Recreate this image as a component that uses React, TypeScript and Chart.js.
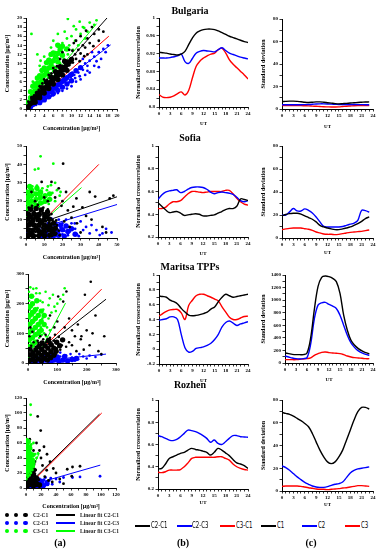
import React, { useEffect, useRef } from "react";
import { Chart, registerables } from "chart.js";

Chart.register(...registerables);

const C_BLACK = "#000000";
const C_BLUE = "#0000ff";
const C_RED = "#ff0000";
const C_GREEN = "#00ff00";
const SERIF = "'Liberation Serif','Times New Roman',serif";

// ---------------- (a) scatter data, flattened [x, y, x, y, ...]
// Bulgaria
const bgC2C1 = [0.3,0.4, 0.6,0.9, 0.9,0.7, 1,1.4, 1.3,1.8, 1.5,1.2, 1.7,2.3, 2,2, 2.1,2.8, 2.4,2.4, 2.6,3.3, 2.9,2.8, 3,3.8, 3.3,3.3, 3.5,4.3, 3.8,3.7, 4,4.9, 4.2,4.2, 4.5,5.4, 4.7,4.6, 5,6, 5.2,5.1, 5.5,6.5, 5.7,5.6, 6,7, 6.2,6.2, 6.5,7.6, 6.7,6.7, 7,8.2, 7.2,7.2, 7.5,8.8, 7.8,7.8, 8,9.4, 8.3,8.3, 8.6,10, 8.9,9, 9.2,10.6, 9.5,9.6, 10,11.2, 10.3,10.2, 10.8,12, 11,11, 11.5,13, 12,12.2, 12.5,14, 13,13.5, 13.5,15.5, 14,14.5, 15,16.5, 16,17.5, 11,15, 12,16, 9.5,13, 13.5,12, 16,15, 14.5,18, 10.5,14.5, 7.5,11, 6,9, 8,12.5, 5,7.5, 4,6.5, 3,5, 17,17, 1.8,3, 2.8,4.2, 3.6,5.6, 4.6,6.4, 5.6,7.8, 6.8,9.4, 0.5,1.6, 1.2,2.6, 11.8,10.5, 12.8,11.6, 14.8,13.8, 10.2,12.8, 13.2,17.2];
const bgC2C3 = [0.5,0.3, 1,0.6, 1.4,0.9, 1.8,1.1, 2,1.6, 2.3,1.3, 2.6,2, 2.9,1.8, 3.2,2.5, 3.5,2.2, 3.8,3, 4,2.6, 4.3,3.4, 4.6,3.1, 4.9,3.9, 5.2,3.5, 5.5,4.4, 5.8,4, 6.1,4.9, 6.4,4.5, 6.7,5.4, 7,5, 7.3,5.9, 7.6,5.4, 8,6.4, 8.3,5.9, 8.6,7, 9,6.5, 9.4,7.5, 9.8,7, 10.2,8, 10.6,7.5, 11,8.6, 11.5,8, 12,9.2, 12.5,8.6, 13,10, 13.5,9.5, 14,10.6, 15,11.5, 16,12.5, 17,13.2, 18,14, 10,5, 11,6, 12,6.5, 13,7.5, 14,8, 9,4.5, 7,3.5, 8,4, 15,9.5, 12.5,11, 16.5,11, 5,2.5, 6,3, 14.5,12.5, 17.5,12.5, 2.2,0.9, 3.4,1.6, 4.4,2.2, 5.6,2.9, 6.8,4, 8,5, 9.4,5.8, 10.8,6.8, 15.5,10.5, 16,9.2, 13.5,8.4, 11.8,7.2];
const bgC3C1 = [0.3,0.8, 0.6,1.5, 0.8,2.5, 1,1.8, 1.2,3.2, 1.5,2.4, 1.6,4, 1.9,3.1, 2,5, 2.2,4.2, 2.4,6, 2.6,3.5, 2.8,5.3, 3,7, 3.1,4.6, 3.3,6.2, 3.5,8, 3.6,5.4, 3.9,7, 4,9, 4.2,6, 4.4,7.8, 4.6,10, 4.8,6.8, 5,8.8, 5.2,11, 5.4,7.5, 5.6,9.6, 5.8,12, 6,8.3, 6.2,10.4, 6.5,12.5, 6.7,9, 7,11.2, 7.2,13.5, 7.5,10, 7.8,12, 8,14.5, 8.3,11, 8.6,13, 9,15.5, 9.2,12, 9.5,14, 10,16, 10.3,13, 10.8,15, 11,17.5, 11.5,14, 12,16.5, 12.5,18, 13,15.5, 13.5,17, 14,19, 15,18.5, 9.2,19.8, 1.2,16.5, 2.5,12, 6,15, 7,16.5, 4,11.5, 3,9.5, 1.5,6, 5.5,13.5, 8.5,17, 15.5,19.5, 11.8,19.2, 10.5,18.2, 12.8,17.8, 6.8,14.2, 3.2,10.6];
const bgC2C1Core = [0.5,0.5, 1,1.2, 1.5,1.5, 2,2.2, 2.5,2.6, 3,3.2, 3.5,3.7, 4,4.3, 4.5,4.8, 5,5.4, 5.5,5.9, 6,6.5, 6.5,7, 7,7.6, 7.5,8.1, 8,8.7, 8.5,9.2, 9,9.8, 9.5,10.3, 10,10.9, 1.5,2.3, 2.5,3.5, 3.5,4.7, 4.5,5.9, 5.5,7, 6.5,8.2, 7.5,9.3, 8.5,10.5, 2,1.5, 3,2.5, 4,3.5, 5,4.5, 6,5.5, 7,6.5, 8,7.5, 9,8.5];
const bgC2C3Core = [1,0.5, 1.5,1, 2,1.3, 2.5,1.7, 3,2.1, 3.5,2.5, 4,2.9, 4.5,3.3, 5,3.7, 5.5,4.1, 6,4.5, 6.5,4.9, 7,5.3, 7.5,5.7, 8,6.1, 8.5,6.5, 9,6.9, 10,7.6, 11,8.4, 12,9.1, 3,1.4, 4,2, 5,2.7, 6,3.4, 7,4.1, 8,4.8, 9,5.5, 10,6.2];
const bgC3C1Core = [0.5,1.5, 1,2.5, 1.5,3.3, 2,4, 2.5,5, 3,5.8, 3.5,6.5, 4,7.4, 4.5,8.2, 5,9, 5.5,9.8, 6,10.6, 6.5,11.4, 7,12.2, 7.5,13, 8,13.8, 1,3.8, 2,5.5, 3,7.3, 4,9, 5,10.7, 6,12.3, 7,14, 1.5,5, 2.5,6.8, 3.5,8.5, 4.5,10.2, 5.5,12, 3,4.5, 4,6, 5,7.6, 6,9, 7,10.4, 8,11.8, 9,13.2];
const bgFitC2C1 = [0, 0, 17.8, 20];
const bgFitC2C3 = [0.5, 0.3, 18.6, 14.1];
const bgFitC3C1 = [0, 0, 15.5, 18.75];
const bgRefLine = [0, 0, 18.2, 16];

// Sofia
const sfC2C1 = [0.5,0.5, 1,2, 1.5,4, 0.8,6, 1.2,8, 0.6,10, 1,12, 0.8,14, 2,1, 2.5,3, 2.2,5, 2.8,7, 2.4,9, 2.9,11, 2.3,13, 2.6,15, 3.5,0.8, 4,2.5, 3.6,4.5, 4.2,6.5, 3.8,8.5, 4.3,10.5, 3.9,12.5, 4.4,14.5, 5.5,1.2, 5.2,3.3, 5.8,5.2, 5.4,7.3, 6,9.2, 5.5,11.2, 6.1,13.2, 5.6,16, 7,0.6, 7.4,2.6, 7,4.4, 7.6,6.3, 7.2,8.3, 7.8,10.3, 7.3,12.3, 7.9,14.5, 9,1.5, 9.3,3.6, 8.9,5.6, 9.5,7.5, 9,9.5, 9.6,11.5, 9.2,13.6, 10.8,0.9, 11,3, 10.6,5, 11.3,7, 10.9,9, 11.5,11, 11,13, 12.7,2, 12.5,4.2, 13,6.2, 12.6,8.3, 13.2,10.2, 12.8,12.5, 14.5,1.2, 14.8,3.5, 14.3,5.6, 15,7.8, 14.6,9.8, 16.5,2.5, 16.2,5, 17,7, 16.6,9.5, 18,4, 18.5,1.5, 1.5,16.5, 3.3,17.5, 6.5,18, 9.5,16.5, 12,15.5, 14,13, 20.4,40.4, 14,30.5, 8.6,30.5, 27.7,21.5, 31,16.6, 46,21.5, 20,20, 23,15, 25,11, 28,8, 33,12, 36,10, 38,22.5, 42,6, 44,3, 30,3, 22,25, 18,27, 16,22, 19.5,17.5, 26,17, 35,25, 48,23, 24,6, 21,9, 12,20, 10,22, 3,25, 5,20];
const sfC2C3 = [8,1, 10,2.5, 12,1.5, 13,4, 15,2, 16,4.5, 17,1, 18,3, 19,5.5, 20,2, 21,4, 22,6.5, 23,1.5, 24,3.5, 25,8, 26.8,7.9, 23,6, 28,2, 31.4,4.3, 35,2.5, 38.7,4.3, 40.5,1.6, 44,5, 47,3, 33,6, 30,9, 20,8, 18,10, 15,8, 14,10.5, 12,8, 17,6.5, 27,5, 29,1, 36,7, 42,2.5, 22,10, 11,5.5, 9,4, 14,6];
const sfC3C1 = [8,44.4, 15,40.4, 4.9,37.2, 6.8,37.7, 13.7,28.7, 4,25, 2.2,27, 1,20, 2,18, 3,22, 4.5,19, 5.5,23, 6.5,26, 7.5,21, 8.5,24, 9.5,19, 10.5,22, 11.5,26, 12.5,18.5, 13.5,21, 14.5,24.5, 16,20, 17,26, 18.5,23, 1.2,24, 0.6,17, 2.8,15.5, 5,16.5, 7,17, 3.5,28, 6,28.5, 9,27, 12,28, 16,30, 19,25, 0.5,12, 3.5,19.5, 1.5,22.5, 7,23.5];
const sfC2C1Core = [1.2,1.3, 1,4.2, 1.4,7.1, 0.9,10.2, 1.3,13, 4.1,1.1, 3.8,4.3, 4.2,7.2, 3.9,9.8, 4.3,13.2, 7.1,1.4, 6.8,4.1, 7.2,7, 6.9,10.1, 7.3,12.8, 10.2,1.2, 9.8,4.2, 10.1,6.9, 9.9,9.9, 10.3,12.6, 13.1,1.5, 12.8,4.4, 13.2,7.1, 12.9,10.2, 15.8,2.4, 16.1,5.3, 2.6,15.6, 5.6,16.1, 8.4,15.2, 11.8,14.1, 15.2,8.1, 2.5,2.6, 5.6,5.4, 8.6,8.5, 11.4,11.6, 2.7,8.6, 8.4,2.8, 5.4,11.4, 11.6,5.6, 2.4,11.5, 14.4,3.6];
const sfC2C3Core = [9,1, 12,1.5, 15,1, 18,1.5, 21,1, 11,4, 14,4.5, 17,4, 20,4.5, 23,3.5, 13,7, 16,7.5, 19,7, 22,6.5, 25,5, 27,2];
const sfC3C1Core = [1,16, 1,19, 1,22, 1,25, 3,17, 3,20, 3,23, 3,26, 5.5,18, 5.5,21, 5.5,24, 8,19, 8,22, 8,25, 10.5,20, 10.5,23, 13,21, 13,24, 2,28, 6,27];
const sfFitC2C1 = [0, 5.6, 50, 22.4];
const sfFitC2C3 = [0, 3, 50, 18.2];
const sfFitC3C1 = [0, 1, 30.5, 27.4];
const sfRefLine = [0, 0, 40, 40];

// Maritsa TPPs
const mtC2C1 = [2,5, 5,15, 8,30, 4,45, 10,8, 12,22, 15,40, 11,58, 18,12, 20,28, 23,48, 19,70, 26,5, 28,20, 30,38, 27,55, 33,75, 34,12, 37,30, 40,50, 36,68, 42,90, 44,8, 46,25, 48,42, 45,60, 52,80, 54,18, 56,35, 58,55, 62,70, 60,95, 65,10, 68,28, 70,48, 72,65, 75,85, 80,20, 82,40, 85,58, 88,75, 92,95, 95,30, 98,50, 100,70, 105,88, 110,45, 115,60, 120,80, 130,55, 140,70, 150,60, 160,90, 180,80, 182,90, 200,110, 210,60, 220,100, 240,40, 250,30, 214,274, 194,230, 131,241, 103,224, 120,207, 140,150, 170,130, 230,160, 260,90, 150,110, 125,120, 100,140, 90,120, 75,160, 190,45, 165,40, 5,90, 15,105, 8,120];
const mtC2C3 = [3,2, 8,5, 12,10, 16,3, 20,8, 24,14, 28,4, 32,11, 36,18, 40,6, 44,13, 48,20, 52,3, 56,10, 60,16, 64,24, 68,6, 72,12, 76,19, 80,28, 84,4, 88,10, 92,17, 96,24, 100,8, 105,15, 110,22, 115,5, 120,12, 125,17, 130,25, 140,10, 150,18, 160,8, 171,13, 188,22, 200,15, 210,25, 230,20, 250,28, 145,30, 135,3, 175,30, 60,32, 90,35, 20,25, 40,30, 110,35];
const mtC3C1 = [3,20, 5,45, 8,70, 4,95, 7,120, 5,150, 6,180, 4,210, 3,240, 12,30, 14,55, 11,80, 15,105, 12,130, 16,160, 13,190, 17,225, 20,40, 22,65, 19,90, 23,115, 21,140, 24,170, 20,200, 28,50, 30,75, 27,100, 31,125, 29,150, 33,185, 28,235, 36,60, 38,85, 35,110, 40,135, 37,165, 42,210, 45,70, 47,95, 44,120, 49,150, 52,180, 55,100, 57,130, 60,160, 65,120, 70,150, 74,218, 80,170, 90,190, 100,200, 110,215, 120,230, 125,252, 28.5,252, 40,235, 60,240, 18,250, 8,255, 50,205, 85,230, 95,175, 70,195, 62,90, 75,110, 10,10, 25,20];
const mtC2C1Core = [5,8, 6,28, 7,46, 16,12, 17,32, 24,6, 26,24, 27,44, 35,14, 36,34, 37,56, 46,8, 46,26, 47,46, 48,68, 56,16, 57,36, 58,58, 66,10, 67,28, 68,50, 70,76, 77,18, 78,38, 79,62, 88,26, 88,50, 96,40, 98,70, 108,58, 118,78];
const mtC2C3Core = [15,5, 30,8, 45,5, 60,10, 75,5, 90,10, 105,6, 120,10, 135,7, 150,12, 25,18, 50,20, 75,22, 100,20, 125,22, 165,15];
const mtC3C1Core = [5,55, 5,80, 5,105, 5,130, 5,160, 5,190, 15,60, 15,85, 15,110, 15,140, 15,170, 15,200, 25,70, 25,95, 25,120, 25,150, 25,180, 35,100, 35,130, 35,160, 45,110, 45,140, 45,175, 55,130, 55,160, 12,225, 30,210];
const mtFitC2C1 = [0, 10, 266, 215];
const mtFitC2C3 = [0, 2.6, 266, 30];
const mtFitC3C1 = [20, 0, 128, 202];
const mtRefLine = [0, 0, 251, 249];

// Rozhen
const rzC2C1 = [0.5,2, 1,6, 2,10, 1.5,14, 2.5,18, 1,22, 2,26, 1.5,30, 3,34, 2,38, 3.5,3, 4,8, 4.5,12, 3.8,16, 5,20, 4.2,24, 5.5,28, 4.5,32, 6,36, 5,42, 6.5,4, 7,9, 7.5,14, 6.8,18, 8,22, 7.2,27, 8.5,31, 9,2, 9.5,7, 10,11, 9.2,16, 10.5,20, 9.8,25, 11.5,5, 12,10, 12.5,15, 11.8,19, 14,3, 14.5,8, 15,13, 16,6, 17,11, 18,2, 13,24, 15.6,95.4, 19.6,76.6, 27.6,23.7, 32,35, 36.4,26, 62,28, 72,29, 61,15.7, 50,5.8, 22,30, 25,15, 30,10, 20,40, 18,50, 14,60, 10,50, 8,45, 5,65, 3,55, 40,20, 45,12, 55,25, 35,8, 28,45, 24,55, 12,35];
const rzC2C3 = [1,0.5, 3,1.5, 5,0.8, 7,2.5, 9,1.2, 11,3.5, 13,1, 15,4, 17,2, 19,5.5, 21,1.5, 23,6, 25,3, 27,8, 29,4.5, 31,10, 8,4.5, 12,6, 16,7.5, 20,9, 24,11, 14,10, 10,8, 6,5, 35,5, 40,12, 45,8, 50,14, 62,14, 72,14.8, 98.7,15.7, 26,14, 33,13, 2,3, 4,5.5, 18,12, 22,3.5];
const rzC3C1 = [0.5,12, 1,17, 0.8,22, 1.5,27, 0.6,32, 1.2,37, 0.8,42, 1.5,47, 0.7,52, 1.2,57, 2.5,15, 3,20, 2.2,25, 3.3,30, 2.5,35, 3.2,40, 2.4,45, 3.4,50, 2.7,55, 4.5,17, 5,23, 4.3,28, 5.2,33, 4.6,38, 5.5,44, 4.8,50, 5.8,56, 6.5,20, 7,26, 6.8,32, 7.5,38, 7.2,44, 8.5,24, 9,30, 8.8,36, 10,28, 11,34, 6.2,111, 6.2,97.6, 10,60, 12,45, 14,40, 3,62, 1,65, 7,58, 16,46];
const rzC2C1Core = [2,3, 2,10, 2,17, 2,24, 2,31, 6,5, 6,12, 6,19, 6,26, 10,3, 10,10, 10,17, 10,24, 14,6, 14,13, 18,4, 4,36, 9,32];
const rzC2C3Core = [3,2, 8,3, 13,2, 18,4, 23,3, 28,6, 12,7, 20,9];
const rzC3C1Core = [1.5,22, 1.5,29, 1.5,36, 1.5,43, 1.5,50, 1.5,57, 5,25, 5,32, 5,39, 5,46, 5,53, 8.5,30, 8.5,37, 8.5,44, 3,62];
const rzFitC2C1 = [0, 2, 98, 98.5];
const rzFitC2C3 = [0, 2.1, 99, 30.5];
const rzFitC3C1 = [0, 8, 17.5, 46];
const rzRefLine = [0, 0, 101, 100];

// ---------------- (b) normalized crosscorrelation, UT hours 0..24
const HOURS_B = [0,1,2,3,4,5,6,7,8,9,10,11,12,13,14,15,16,17,18,19,20,21,22,23,24];
const bgCorrC2C1 = [0.923,0.922,0.921,0.919,0.918,0.917,0.919,0.925,0.94,0.955,0.966,0.971,0.974,0.975,0.975,0.974,0.971,0.967,0.963,0.959,0.956,0.953,0.95,0.947,0.945];
const bgCorrC2C3 = [0.910,0.910,0.910,0.911,0.913,0.915,0.919,0.902,0.898,0.909,0.921,0.925,0.927,0.926,0.925,0.924,0.929,0.933,0.927,0.921,0.918,0.915,0.912,0.910,0.908];
const bgCorrC3C1 = [0.828,0.822,0.821,0.822,0.825,0.830,0.834,0.827,0.837,0.865,0.891,0.903,0.910,0.915,0.919,0.921,0.929,0.932,0.921,0.906,0.896,0.888,0.880,0.872,0.863];
const sfCorrC2C1 = [0.50,0.47,0.44,0.415,0.42,0.424,0.41,0.39,0.395,0.40,0.404,0.40,0.386,0.385,0.39,0.395,0.41,0.424,0.44,0.45,0.45,0.47,0.535,0.53,0.52];
const sfCorrC2C3 = [0.53,0.57,0.595,0.605,0.61,0.615,0.59,0.60,0.62,0.635,0.64,0.64,0.635,0.62,0.595,0.58,0.59,0.595,0.59,0.585,0.575,0.55,0.52,0.51,0.52];
const sfCorrC3C1 = [0.45,0.45,0.46,0.49,0.51,0.51,0.52,0.55,0.58,0.60,0.60,0.595,0.59,0.595,0.60,0.60,0.60,0.60,0.61,0.61,0.58,0.54,0.51,0.49,0.48];
const mtCorrC2C1 = [0.716,0.71,0.70,0.66,0.64,0.61,0.55,0.50,0.46,0.45,0.455,0.465,0.48,0.50,0.54,0.57,0.64,0.70,0.74,0.72,0.70,0.71,0.72,0.73,0.74];
const mtCorrC2C3 = [0.39,0.40,0.41,0.435,0.435,0.40,0.20,0.02,-0.04,-0.03,0.01,0.02,0.03,0.05,0.08,0.13,0.20,0.30,0.36,0.38,0.35,0.32,0.34,0.355,0.37];
const mtCorrC3C1 = [0.445,0.48,0.51,0.53,0.535,0.535,0.49,0.40,0.59,0.66,0.72,0.74,0.74,0.72,0.70,0.675,0.65,0.57,0.50,0.43,0.40,0.40,0.42,0.44,0.445];
const rzCorrC2C1 = [0.38,0.385,0.425,0.475,0.49,0.505,0.52,0.53,0.55,0.565,0.555,0.55,0.54,0.53,0.505,0.53,0.565,0.55,0.525,0.50,0.465,0.435,0.425,0.41,0.385];
const rzCorrC2C3 = [0.68,0.67,0.655,0.64,0.635,0.645,0.67,0.70,0.73,0.725,0.715,0.70,0.68,0.655,0.62,0.64,0.61,0.60,0.625,0.655,0.68,0.68,0.67,0.668,0.665];
const rzCorrC3C1 = [0.35,0.347,0.355,0.37,0.37,0.37,0.375,0.40,0.435,0.475,0.485,0.485,0.485,0.485,0.485,0.485,0.49,0.49,0.475,0.46,0.425,0.40,0.385,0.375,0.37];

// ---------------- (c) standard deviation, UT hours 0..23
const HOURS_C = [0,1,2,3,4,5,6,7,8,9,10,11,12,13,14,15,16,17,18,19,20,21,22,23];
const bgStdC1 = [6.5,6.8,7,7,6.8,6.5,6,5.8,6,6.3,6.3,6,5.6,5.2,4.8,4.6,4.8,5,5.3,5.5,5.8,6,6.2,6.3];
const bgStdC2 = [3.8,3.8,3.8,3.8,3.8,3.8,3.9,4,4.2,4.5,4.6,4.6,4.5,4.3,4.2,4,4,4,4,4,3.9,3.9,3.8,3.8];
const bgStdC3 = [3,3,3,3,3,3,2.9,2.8,2.6,2.4,2.2,2,1.9,1.8,1.8,1.9,2.2,2.5,2.7,2.9,3,3,3,3];
const sfStdC1 = [19.2,20.4,21.2,21.5,21.5,20.7,19.3,17.8,16.3,14,11,9.6,8.7,7.9,7.3,7.3,7.9,8.7,9.6,11,12.5,14.5,16.9,18.3];
const sfStdC2 = [19.8,20,22.7,25.6,23.6,23.5,25.3,24,21.8,18.3,14,10.2,9.6,9.6,9.6,9.6,10,11,12,13,15.4,24,23.8,22.4];
const sfStdC3 = [7.3,7.9,8.4,8.7,8.7,8.7,8.1,7.6,6.7,5.2,4.4,3.5,3.2,3.2,2.9,3.2,3.8,4.4,4.9,5.2,5.5,5.8,6.4,7];
const mtStdC1 = [160,149,138,133,133,133,160,400,850,1214,1363,1384,1373,1347,1294,1107,761,522,362,282,229,192,165,149];
const mtStdC2 = [112,96,80,69,64,69,85,300,700,921,958,964,932,905,868,761,602,442,319,245,192,160,138,122];
const mtStdC3 = [53,53,53,53,59,64,69,80,122,149,170,176,165,160,154,149,133,112,96,85,80,75,69,69];
const rzStdC1 = [69.1,68.2,67.4,65.9,63.8,61.8,59.4,56.5,50.6,43.2,35.9,30,25.6,24.1,25.6,30,35.9,44.7,53.5,62.4,69.7,73.5,73.5,72];
const rzStdC2 = [22,20.6,18.2,15.3,12.4,10,7.6,5.9,4.4,3.5,3.2,3.2,3.8,5,5.9,6.5,7.9,11.8,15.9,18.2,19.4,20,20.6,21.2];
const rzStdC3 = [4.1,4.4,4.4,4.4,4.4,4.1,3.5,2.9,2.4,1.8,1.5,1.5,1.2,1.5,1.8,2.1,2.6,2.9,3.5,4.1,4.7,4.7,4.4,4.1];

// ---------------- text
const STATIONS = ["Bulgaria", "Sofia", "Maritsa TPPs", "Rozhen"];
const CONC_TITLE = "Concentration [μg/m³]";
const CORR_TITLE = "Normalized crosscorrelation";
const STD_TITLE = "Standard deviation";
const UT_TITLE = "UT";
const PAIR_LABELS = ["C2-C1", "C2-C3", "C3-C1"];
const FIT_LABELS = ["Linear fit C2-C1", "Linear fit C2-C3", "Linear fit C3-C1"];
const STD_LABELS = ["C1", "C2", "C3"];

// ---------------- helpers
type Geo = { L: number; T: number; W: number; H: number; x0: number; y0: number; x1: number; y1: number };
type AxisSpec = { min: number; max: number; step: number; every: number; title: string; tsize?: number };

const pts = (a: number[]) => {
  const r: { x: number; y: number }[] = [];
  for (let i = 0; i < a.length; i += 2) r.push({ x: a[i], y: a[i + 1] });
  return r;
};
const seg = (a: number[]) => [{ x: a[0], y: a[1] }, { x: a[2], y: a[3] }];

function makeScale(spec: AxisSpec, horizontal: boolean, size: number, titlePad: any) {
  const isLab = (v: number) => Math.abs(v / spec.every - Math.round(v / spec.every)) < 1e-6;
  return {
    type: "linear",
    min: spec.min,
    max: spec.max,
    afterFit: (s: any) => {
      if (horizontal) s.height = size;
      else s.width = size;
    },
    ticks: {
      stepSize: spec.step,
      autoSkip: false,
      maxRotation: 0,
      minRotation: 0,
      padding: 1.5,
      color: "#000",
      font: { family: SERIF, size: 5, weight: "bold" },
      callback: (v: number) => (isLab(v) ? String(parseFloat(Number(v).toFixed(4))) : ""),
    },
    grid: { display: true, drawOnChartArea: false, drawTicks: true, tickLength: 2.5, color: "#000", lineWidth: 0.8 },
    border: { display: true, color: "#000", width: 1 },
    title: {
      display: true,
      text: spec.title,
      color: "#000",
      font: { family: SERIF, size: spec.tsize || 6, weight: "bold" },
      padding: titlePad,
    },
  };
}

function makeOptions(g: Geo, xs: AxisSpec, ys: AxisSpec, yTitleOffset: number) {
  return {
    responsive: false,
    animation: false,
    devicePixelRatio: 1,
    events: [],
    layout: { padding: { left: 0, top: g.y0 - g.T, right: g.L + g.W - g.x1, bottom: 0 } },
    plugins: { legend: { display: false }, tooltip: { enabled: false }, title: { display: false } },
    scales: {
      x: makeScale(xs, true, g.T + g.H - g.y1, { top: 0, bottom: 0 }),
      y: makeScale(ys, false, g.x0 - g.L, { top: yTitleOffset, bottom: 0 }),
    },
  };
}

// s = [C2-C1, C2-C3, C3-C1] sparse points, k = same series dense cores, lines = [fitC2C1, fitC2C3, fitC3C1, ref]
function scatterConfig(g: Geo, xs: AxisSpec, ys: AxisSpec, r: number, s: number[][], k: number[][], lines: number[][], greenOnTop: boolean) {
  const dot = (d: number[], c: string, rad: number) => ({ data: pts(d), pointRadius: rad, pointBorderWidth: 0, backgroundColor: c, borderColor: c, showLine: false });
  const ln = (d: number[], c: string) => ({ data: seg(d), showLine: true, pointRadius: 0, borderColor: c, backgroundColor: c, borderWidth: 1 });
  const rc = 2.7;
  const black = [dot(s[0], C_BLACK, r), dot(k[0], C_BLACK, rc)];
  const blue = [dot(s[1], C_BLUE, r), dot(k[1], C_BLUE, rc)];
  const green = [dot(s[2], C_GREEN, r), dot(k[2], C_GREEN, rc)];
  const dots = greenOnTop ? [...green, ...black, ...blue] : [...black, ...blue, ...green];
  return {
    type: "scatter",
    data: {
      datasets: [
        ...dots,
        ln(lines[3], C_RED),
        ln(lines[0], C_BLACK),
        ln(lines[1], C_BLUE),
        ln(lines[2], C_GREEN),
      ],
    },
    options: makeOptions(g, xs, ys, 3.4),
  };
}

function lineConfig(g: Geo, xs: AxisSpec, ys: AxisSpec, hours: number[], series: number[][], yOff: number) {
  const cols = [C_BLACK, C_BLUE, C_RED];
  return {
    type: "scatter",
    data: {
      datasets: series.map((v, k) => ({
        data: hours.map((h, i) => ({ x: h, y: v[i] })),
        showLine: true,
        pointRadius: 0,
        borderColor: cols[k],
        backgroundColor: cols[k],
        borderWidth: 1.4,
        tension: 0.35,
      })),
    },
    options: makeOptions(g, xs, ys, yOff),
  };
}

function Panel({ g, config }: { g: Geo; config: any }) {
  const ref = useRef<HTMLCanvasElement>(null);
  useEffect(() => {
    const chart = new Chart(ref.current as HTMLCanvasElement, config);
    return () => chart.destroy();
  }, []);
  return (
    <canvas
      ref={ref}
      width={g.W}
      height={g.H}
      style={{ position: "absolute", left: g.L, top: g.T, width: g.W, height: g.H }}
    />
  );
}

// ---------------- geometry
const GA: Geo[] = [
  { L: 0, T: 0, W: 125, H: 132, x0: 26, y0: 18, x1: 117, y1: 109 },
  { L: 0, T: 130, W: 125, H: 131, x0: 26, y0: 146, x1: 117, y1: 238 },
  { L: 0, T: 262, W: 125, H: 124, x0: 28, y0: 274, x1: 116, y1: 363 },
  { L: 0, T: 390, W: 125, H: 120, x0: 26, y0: 398, x1: 116, y1: 488 },
];
const GB: Geo[] = [
  { L: 125, T: 0, W: 127, H: 127, x0: 159, y0: 18, x1: 248, y1: 107 },
  { L: 125, T: 130, W: 127, H: 127, x0: 158, y0: 146, x1: 248, y1: 237 },
  { L: 125, T: 262, W: 127, H: 122, x0: 159, y0: 275, x1: 248, y1: 364 },
  { L: 125, T: 390, W: 127, H: 116, x0: 158, y0: 400, x1: 248, y1: 489 },
];
const GC: Geo[] = [
  { L: 252, T: 0, W: 127, H: 130, x0: 282, y0: 19, x1: 373, y1: 109 },
  { L: 252, T: 130, W: 127, H: 126, x0: 282, y0: 146, x1: 373, y1: 238 },
  { L: 252, T: 262, W: 127, H: 121, x0: 285, y0: 275, x1: 373, y1: 363 },
  { L: 252, T: 390, W: 127, H: 118, x0: 282, y0: 400, x1: 373, y1: 491 },
];

const conc = (max: number, step: number, every: number): AxisSpec => ({ min: 0, max, step, every, title: CONC_TITLE });
const utB: AxisSpec = { min: 0, max: 24, step: 1, every: 3, title: UT_TITLE, tsize: 5 };
const utC: AxisSpec = { min: 0, max: 24, step: 1, every: 3, title: UT_TITLE, tsize: 5 };

const CONFIGS: { g: Geo; config: any }[] = [
  { g: GA[0], config: scatterConfig(GA[0], conc(20, 1, 2), conc(20, 1, 2), 1.4, [bgC2C1, bgC2C3, bgC3C1], [bgC2C1Core, bgC2C3Core, bgC3C1Core], [bgFitC2C1, bgFitC2C3, bgFitC3C1, bgRefLine], false) },
  { g: GA[1], config: scatterConfig(GA[1], conc(50, 5, 10), conc(50, 5, 10), 1.4, [sfC2C1, sfC2C3, sfC3C1], [sfC2C1Core, sfC2C3Core, sfC3C1Core], [sfFitC2C1, sfFitC2C3, sfFitC3C1, sfRefLine], false) },
  { g: GA[2], config: scatterConfig(GA[2], conc(300, 50, 100), conc(300, 50, 100), 1.3, [mtC2C1, mtC2C3, mtC3C1], [mtC2C1Core, mtC2C3Core, mtC3C1Core], [mtFitC2C1, mtFitC2C3, mtFitC3C1, mtRefLine], false) },
  { g: GA[3], config: scatterConfig(GA[3], conc(120, 10, 20), conc(120, 10, 20), 1.4, [rzC2C1, rzC2C3, rzC3C1], [rzC2C1Core, rzC2C3Core, rzC3C1Core], [rzFitC2C1, rzFitC2C3, rzFitC3C1, rzRefLine], true) },
  { g: GB[0], config: lineConfig(GB[0], utB, { min: 0.8, max: 1, step: 0.02, every: 0.04, title: CORR_TITLE }, HOURS_B, [bgCorrC2C1, bgCorrC2C3, bgCorrC3C1], 9.4) },
  { g: GB[1], config: lineConfig(GB[1], utB, { min: 0.2, max: 1, step: 0.1, every: 0.2, title: CORR_TITLE }, HOURS_B, [sfCorrC2C1, sfCorrC2C3, sfCorrC3C1], 9.4) },
  { g: GB[2], config: lineConfig(GB[2], utB, { min: -0.2, max: 1, step: 0.1, every: 0.2, title: CORR_TITLE }, HOURS_B, [mtCorrC2C1, mtCorrC2C3, mtCorrC3C1], 9.4) },
  { g: GB[3], config: lineConfig(GB[3], utB, { min: 0.2, max: 1, step: 0.1, every: 0.2, title: CORR_TITLE }, HOURS_B, [rzCorrC2C1, rzCorrC2C3, rzCorrC3C1], 9.4) },
  { g: GC[0], config: lineConfig(GC[0], utC, { min: 0, max: 80, step: 10, every: 20, title: STD_TITLE }, HOURS_C, [bgStdC1, bgStdC2, bgStdC3], 7.9) },
  { g: GC[1], config: lineConfig(GC[1], utC, { min: 0, max: 80, step: 10, every: 20, title: STD_TITLE }, HOURS_C, [sfStdC1, sfStdC2, sfStdC3], 7.9) },
  { g: GC[2], config: lineConfig(GC[2], utC, { min: 0, max: 1400, step: 100, every: 200, title: STD_TITLE }, HOURS_C, [mtStdC1, mtStdC2, mtStdC3], 7.9) },
  { g: GC[3], config: lineConfig(GC[3], utC, { min: 0, max: 80, step: 10, every: 20, title: STD_TITLE }, HOURS_C, [rzStdC1, rzStdC2, rzStdC3], 7.9) },
];

const TITLE_Y = [11, 138, 267, 385];

const txt = (s: any): React.CSSProperties => ({ position: "absolute", fontFamily: SERIF, fontWeight: "bold", color: "#000", whiteSpace: "nowrap", ...s });

export default function App() {
  const colsA = [C_BLACK, C_BLUE, C_GREEN];
  const colsBC = [C_BLACK, C_BLUE, C_RED];
  const rowsA = [515, 523, 531];
  return (
    <div style={{ position: "absolute", left: 0, top: 0, width: 379, height: 550, background: "#fff", overflow: "hidden" }}>
      {CONFIGS.map((c, i) => (
        <Panel key={i} g={c.g} config={c.config} />
      ))}
      {STATIONS.map((s, i) => (
        <div key={s} style={txt({ left: 140, width: 100, top: TITLE_Y[i] - 6, fontSize: 10, lineHeight: "12px", textAlign: "center" })}>
          {s}
        </div>
      ))}
      {/* legend (a) */}
      {PAIR_LABELS.map((lab, i) => (
        <React.Fragment key={lab}>
          {[7, 16, 25.5].map((cx) => (
            <div key={cx} style={{ position: "absolute", left: cx - 2.2, top: rowsA[i] - 2.2, width: 4.4, height: 4.4, borderRadius: "50%", background: colsA[i] }} />
          ))}
          <div style={txt({ left: 33, top: rowsA[i] - 4, fontSize: 5.5, lineHeight: "8px", color: "#222" })}>{lab}</div>
          <div style={{ position: "absolute", left: 56, top: rowsA[i] - 0.6, width: 19, height: 1.2, background: colsA[i] }} />
          <div style={txt({ left: 80, top: rowsA[i] - 4, fontSize: 5.5, lineHeight: "8px", color: "#222" })}>{FIT_LABELS[i]}</div>
        </React.Fragment>
      ))}
      {/* legend (b) */}
      {PAIR_LABELS.map((lab, i) => (
        <React.Fragment key={"b" + lab}>
          <div style={{ position: "absolute", left: [135, 177, 220][i], top: 524.8, width: 15, height: 2.4, background: colsBC[i] }} />
          <div style={txt({ left: [151, 192, 236][i], top: 521, fontSize: 8, lineHeight: "10px", fontFamily: "'Liberation Sans Narrow','DejaVu Sans Condensed',sans-serif", fontWeight: "normal", transform: "scaleX(0.75)", transformOrigin: "left" })}>{lab}</div>
        </React.Fragment>
      ))}
      {/* legend (c) */}
      {STD_LABELS.map((lab, i) => (
        <React.Fragment key={"c" + lab}>
          <div style={{ position: "absolute", left: [261, 302, 345][i], top: 524.8, width: 15, height: 2.4, background: colsBC[i] }} />
          <div style={txt({ left: [277, 318, 361][i], top: 521, fontSize: 8, lineHeight: "10px", fontFamily: "'Liberation Sans Narrow','DejaVu Sans Condensed',sans-serif", fontWeight: "normal", transform: "scaleX(0.75)", transformOrigin: "left" })}>{lab}</div>
        </React.Fragment>
      ))}
      {["(a)", "(b)", "(c)"].map((s, i) => (
        <div key={s} style={txt({ left: [60, 183, 311][i] - 20, width: 40, textAlign: "center", top: 537, fontSize: 10, lineHeight: "12px" })}>
          {s}
        </div>
      ))}
    </div>
  );
}
